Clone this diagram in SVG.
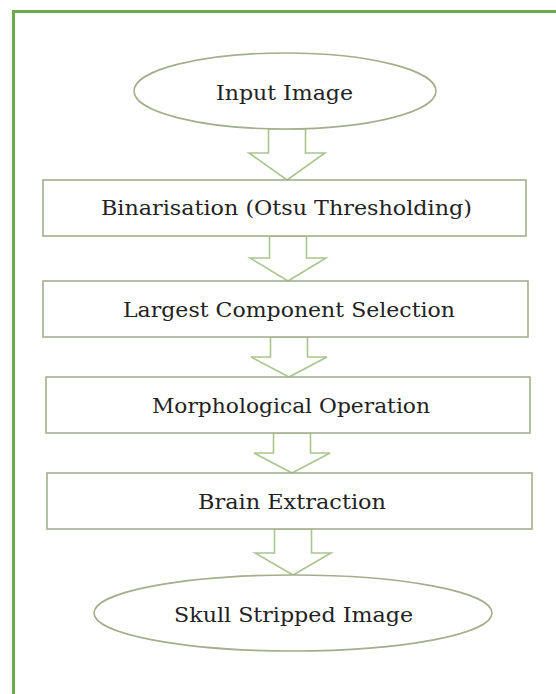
<svg xmlns="http://www.w3.org/2000/svg" width="556" height="694" viewBox="0 0 556 694">
<style>
.frame{stroke:#6ea84a;stroke-width:3;fill:none}
.node{fill:#ffffff;stroke:#a4ae8c;stroke-width:1.6}
.arr{fill:#ffffff;stroke:#a9c590;stroke-width:1.6;stroke-linejoin:miter}
.lbl{font-family:"DejaVu Serif","Liberation Serif",serif;font-size:20px;fill:#222222}
</style>
<rect x="0" y="0" width="556" height="694" fill="#ffffff"/>
<g id="frame">
<line class="frame" x1="12" y1="11.5" x2="556" y2="11.5"/>
<line class="frame" x1="13.5" y1="10" x2="13.5" y2="694"/>
</g>
<g id="connectors">
<polygon class="arr" points="268.5,129 305.5,129 305.5,153 325,153 287,180 249,153 268.5,153"/>
<polygon class="arr" points="269.5,236 306.5,236 306.5,258 326,258 288,281 250,258 269.5,258"/>
<polygon class="arr" points="270.5,337 307.5,337 307.5,357 327,357 289,377 251,357 270.5,357"/>
<polygon class="arr" points="273.5,433 310.5,433 310.5,453 330,453 292,473 254,453 273.5,453"/>
<polygon class="arr" points="274.5,529 311.5,529 311.5,553 331,553 293,575 255,553 274.5,553"/>
</g>
<g id="input-image">
<ellipse class="node" cx="285" cy="91" rx="151" ry="38"/>
<text class="lbl" x="216" y="100" textLength="137" lengthAdjust="spacingAndGlyphs">Input Image</text>
</g>
<g id="binarisation">
<rect class="node" x="43" y="180" width="483" height="56"/>
<text class="lbl" x="101" y="215" textLength="371" lengthAdjust="spacingAndGlyphs">Binarisation (Otsu Thresholding)</text>
</g>
<g id="largest-component">
<rect class="node" x="43" y="281" width="485" height="56"/>
<text class="lbl" x="123" y="317" textLength="332" lengthAdjust="spacingAndGlyphs">Largest Component Selection</text>
</g>
<g id="morphological">
<rect class="node" x="46" y="377" width="484" height="56"/>
<text class="lbl" x="152" y="413" textLength="278" lengthAdjust="spacingAndGlyphs">Morphological Operation</text>
</g>
<g id="brain-extraction">
<rect class="node" x="47" y="473" width="485" height="56"/>
<text class="lbl" x="198" y="509" textLength="188" lengthAdjust="spacingAndGlyphs">Brain Extraction</text>
</g>
<g id="skull-stripped">
<ellipse class="node" cx="293" cy="613" rx="199" ry="38"/>
<text class="lbl" x="174" y="622" textLength="239" lengthAdjust="spacingAndGlyphs">Skull Stripped Image</text>
</g>
</svg>
